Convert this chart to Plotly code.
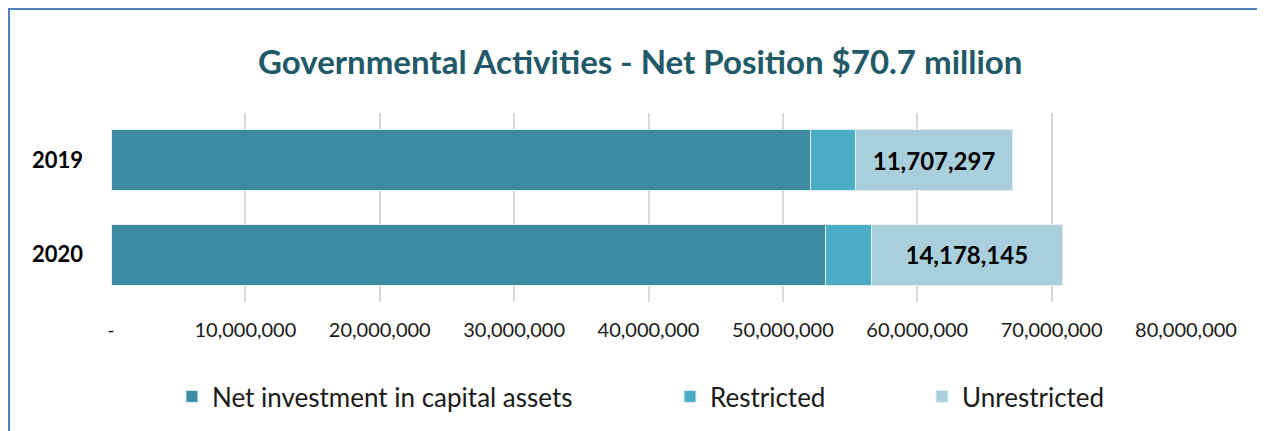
import plotly.graph_objects as go

years = ["2019", "2020"]
net_investment = [52_050_000, 53_200_000]
restricted = [3_350_000, 3_400_000]
unrestricted = [11_707_297, 14_178_145]

tick_vals = [0, 10_000_000, 20_000_000, 30_000_000, 40_000_000,
             50_000_000, 60_000_000, 70_000_000, 80_000_000]
tick_text = ["-"] + [f"{v:,}" for v in tick_vals[1:]]

FONT = "Lato"

fig = go.Figure()

fig.add_trace(go.Bar(
    y=years, x=net_investment, orientation="h",
    name="Net investment in capital assets",
    marker=dict(color="#3C8BA2", line=dict(color="#E6EEF1", width=1)),
    legend="legend",
))
fig.add_trace(go.Bar(
    y=years, x=restricted, orientation="h",
    name="Restricted",
    marker=dict(color="#4BACC6", line=dict(color="#E6EEF1", width=1)),
    legend="legend2",
))
fig.add_trace(go.Bar(
    y=years, x=unrestricted, orientation="h",
    name="Unrestricted",
    marker=dict(color="#A9CFDC", line=dict(color="#E6EEF1", width=1)),
    text=[f"{v:,}" for v in unrestricted],
    textposition="inside", insidetextanchor="middle",
    constraintext="none",
    textfont=dict(family=FONT, size=24, color="#000000", weight="bold"),
    legend="legend3",
))

legend_common = dict(
    orientation="h", yanchor="middle", y=-0.5, xanchor="left",
    font=dict(family=FONT, size=26, color="#1a1a1a"),
    bgcolor="rgba(0,0,0,0)",
)

# the page body has an 8px margin, so the figure is sized/placed to compensate
fig.update_layout(
    width=1257, height=423,
    barmode="stack", bargap=0.355,
    showlegend=True,
    paper_bgcolor="white", plot_bgcolor="white",
    margin=dict(l=103, r=79, t=105, b=129, autoexpand=False),
    title=dict(
        text="Governmental Activities - Net Position $70.7 million",
        x=0.503, xanchor="center", y=0.872, yanchor="middle",
        font=dict(family=FONT, size=33, color="#215968", weight="bold"),
    ),
    xaxis=dict(
        range=[0, 80_000_000], tickvals=tick_vals, ticktext=tick_text,
        showgrid=True, gridcolor="#D9D9D9", gridwidth=1.5,
        zeroline=False, showline=False, ticklabelstandoff=14,
        tickfont=dict(family=FONT, size=20, color="#1a1a1a"),
    ),
    yaxis=dict(
        autorange="reversed", showgrid=False, zeroline=False,
        ticklabelstandoff=27,
        tickfont=dict(family=FONT, size=22, color="#000000", weight="bold"),
    ),
    legend=dict(legend_common, x=0.0567),
    legend2=dict(legend_common, x=0.52),
    legend3=dict(legend_common, x=0.7544),
    shapes=[dict(
        type="path", xref="paper", yref="paper",
        path="M -0.0949,-0.8 L -0.0949,1.55 L 1.2,1.55",
        line=dict(color="#4F81BD", width=2),
    )],
)

fig.write_html("out.html")
